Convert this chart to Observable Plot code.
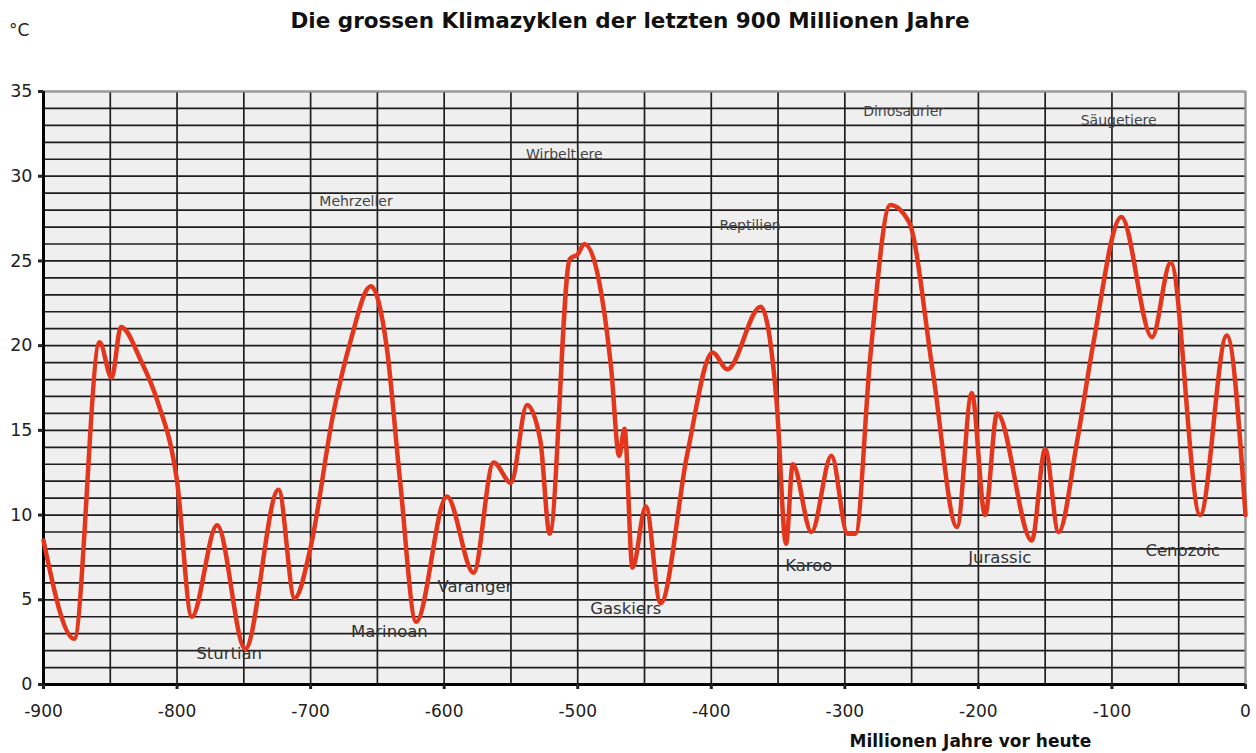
<!DOCTYPE html>
<html>
<head>
<meta charset="utf-8">
<script src="https://cdn.jsdelivr.net/npm/d3@7"></script>
<script src="https://cdn.jsdelivr.net/npm/@observablehq/plot@0.6"></script>
<style>
  body { margin: 0; background: #fff; font-family: "DejaVu Sans", Verdana, sans-serif; }
  #wrap { position: relative; width: 1256px; height: 753px; }
  #head { position: relative; height: 42px; }
  #title { position: absolute; left: 0; width: 1256px; top: 8px; text-align: center; font-weight: bold; font-size: 21.5px; line-height: 26px; color: #111; padding-left: 4px; box-sizing: border-box; }
  #unit { position: absolute; left: 9px; top: 20px; font-size: 17px; color: #222; }
</style>
</head>
<body>
<div id="wrap">
  <div id="head">
    <div id="title">Die grossen Klimazyklen der letzten 900 Millionen Jahre</div>
    <div id="unit">°C</div>
  </div>
  <div id="chart"></div>
</div>
<script>
// Millions of years before present
const years = [-900, -877, -858, -849, -842, -827, -815, -800, -789, -770, -749, -724, -712, -700, -683, -670, -655, -643, -633, -621, -598, -578, -563, -550, -538, -528, -521, -506, -500, -495, -475, -469, -465, -459, -449, -438, -418, -399, -388, -363, -351, -344, -339, -325, -310, -298, -292, -281, -266, -252, -234, -216, -205, -195, -186, -160, -150, -140, -126, -114, -93, -70, -56, -34, -14, 0];
// Temperature (°C)
const temps = [8.5, 2.7, 20.2, 18.1, 21.1, 19.1, 16.8, 12.0, 4.0, 9.4, 2.1, 11.5, 5.1, 8.1, 16.0, 20.3, 23.5, 19.9, 12.0, 3.7, 11.1, 6.6, 13.1, 11.9, 16.5, 14.4, 8.9, 25.1, 25.4, 26.0, 18.7, 13.5, 15.1, 6.9, 10.5, 4.8, 13.6, 19.6, 18.6, 22.3, 16.6, 8.3, 13.0, 9.0, 13.5, 8.9, 8.9, 19.3, 28.3, 27.3, 18.4, 9.3, 17.2, 10.0, 16.0, 8.5, 13.9, 9.0, 14.4, 20.1, 27.6, 20.5, 24.9, 10.0, 20.6, 10.0];

// Life-form annotations (upper)
const lifeLabels = ["Mehrzeller", "Wirbeltiere", "Reptilien", "Dinosaurier", "Säugetiere"];
const lifeX = [-666, -510, -371, -256, -95];
const lifeY = [28.5, 31.3, 27.1, 33.8, 33.3];

// Glaciation annotations (lower)
const iceLabels = ["Sturtian", "Marinoan", "Varanger", "Gaskiers", "Karoo", "Jurassic", "Cenozoic"];
const iceX = [-761, -641, -577, -464, -327, -184, -47];
const iceY = [1.8, 3.1, 5.8, 4.5, 7.0, 7.5, 7.9];

// Ticks and grid
const xTicks = [-900, -800, -700, -600, -500, -400, -300, -200, -100, 0];
const yTicks = [0, 5, 10, 15, 20, 25, 30, 35];
const xGrid = [-850, -800, -750, -700, -650, -600, -550, -500, -450, -400, -350, -300, -250, -200, -150, -100, -50];
const yGrid = [1,2,3,4,5,6,7,8,9,10,11,12,13,14,15,16,17,18,19,20,21,22,23,24,25,26,27,28,29,30,31,32,33,34];

const data = years.map((x, i) => ({x, y: temps[i]}));
const life = lifeLabels.map((t, i) => ({t, x: lifeX[i], y: lifeY[i]}));
const ice = iceLabels.map((t, i) => ({t, x: iceX[i], y: iceY[i]}));

const chart = Plot.plot({
  width: 1256,
  height: 711,
  marginTop: 49,
  marginLeft: 43,
  marginRight: 11,
  marginBottom: 69,
  style: {fontFamily: "DejaVu Sans, Verdana, sans-serif", background: "#fff"},
  x: {domain: [-900, 0]},
  y: {domain: [0, 35]},
  marks: [
    Plot.frame({fill: "#efefef", stroke: "#9a9a9a", strokeWidth: 2}),
    Plot.ruleY(yGrid, {stroke: "#1e1e1e", strokeWidth: 1.7}),
    Plot.ruleX(xGrid, {stroke: "#1e1e1e", strokeWidth: 1.7}),
    Plot.ruleY([35], {stroke: "#9a9a9a", strokeWidth: 2}),
    Plot.ruleX([0], {stroke: "#9a9a9a", strokeWidth: 2}),
    Plot.ruleX([-900], {stroke: "#000", strokeWidth: 3}),
    Plot.ruleY([0], {stroke: "#000", strokeWidth: 3}),
    Plot.axisX({ticks: xTicks, tickFormat: d => String(d), tickSize: 5, tickPadding: 15, fontSize: 17, strokeWidth: 3, color: "#222", label: null}),
    Plot.axisY({ticks: yTicks, tickSize: 5, tickPadding: 6, fontSize: 17.5, strokeWidth: 3, color: "#222", label: null}),
    Plot.text(life, {x: "x", y: "y", text: "t", fontSize: 14, fill: "#444"}),
    Plot.text(ice, {x: "x", y: "y", text: "t", fontSize: 16.5, fill: "#333"}),
    Plot.line(data, {x: "x", y: "y", curve: "monotone-x", stroke: "#e4361c", strokeWidth: 4.5}),
    Plot.text(["Millionen Jahre vor heute"], {x: -206, frameAnchor: "bottom", dy: 62, fontSize: 17, fontWeight: "bold", fill: "#111"})
  ]
});
document.getElementById("chart").appendChild(chart);
</script>
</body>
</html>
